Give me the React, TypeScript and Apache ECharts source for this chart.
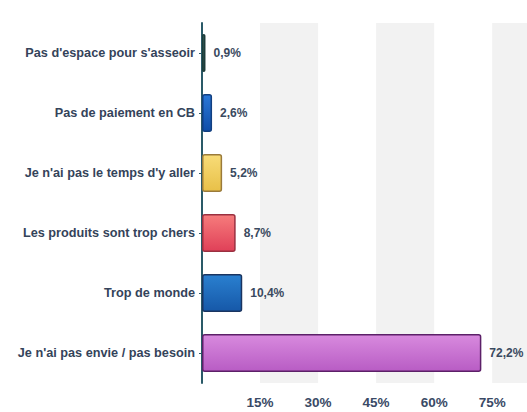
import React, { useEffect, useRef } from "react";
import * as echarts from "echarts";

const categories = [
  "Pas d'espace pour s'asseoir",
  "Pas de paiement en CB",
  "Je n'ai pas le temps d'y aller",
  "Les produits sont trop chers",
  "Trop de monde",
  "Je n'ai pas envie / pas besoin",
];
const values = [0.9, 2.6, 5.2, 8.7, 10.4, 72.2];
const valueLabels = ["0,9%", "2,6%", "5,2%", "8,7%", "10,4%", "72,2%"];
const topColors = ["#3d6e68", "#2a78d8", "#f8dc78", "#f67c7c", "#2a80d0", "#d88ade"];
const bottomColors = ["#244c48", "#0f4ea8", "#e8c048", "#e04058", "#1658a8", "#b85cc4"];
const borderColors = ["#1e3c3a", "#123f80", "#9a7a3a", "#9a3040", "#1a3460", "#5c2068"];
const xMin = 0;
const xMax = 84;
const xStep = 15;

export default function App() {
  const ref = useRef<HTMLDivElement>(null);
  useEffect(() => {
    if (!ref.current) return;
    const chart = echarts.init(ref.current, null, { renderer: "svg" });
    chart.setOption({
      animation: false,
      backgroundColor: "#ffffff",
      grid: { left: 202, top: 23, right: 0, bottom: 29, containLabel: false },
      xAxis: {
        type: "value",
        min: xMin,
        max: xMax,
        interval: xStep,
        axisLine: { show: false },
        axisTick: { show: false },
        splitLine: { show: false },
        splitArea: {
          show: true,
          areaStyle: { color: ["rgba(255,255,255,0)", "#f2f2f2"] },
        },
        axisLabel: {
          margin: 12,
          fontFamily: "Liberation Sans, Arial, sans-serif",
          fontWeight: "bold",
          fontSize: 13.5,
          color: "#3a4a66",
          showMaxLabel: false,
          formatter: (v: number) => (v === 0 || v % xStep !== 0 ? "" : v + "%"),
        },
      },
      yAxis: {
        type: "category",
        inverse: true,
        data: categories,
        axisLine: { show: true, lineStyle: { color: "#2a5a68", width: 2 } },
        axisTick: { show: true, alignWithLabel: true, length: 3, lineStyle: { color: "#2a5a68" } },
        axisLabel: {
          margin: 7,
          fontFamily: "Liberation Sans, Arial, sans-serif",
          fontWeight: "bold",
          fontSize: 12.7,
          color: "#34435a",
        },
      },
      series: [
        {
          type: "bar",
          barWidth: 38,
          z: 1,
          data: values.map((v, i) => ({
            value: v,
            itemStyle: {
              color: new echarts.graphic.LinearGradient(0, 0, 0, 1, [
                { offset: 0, color: topColors[i] },
                { offset: 1, color: bottomColors[i] },
              ]),
              borderColor: borderColors[i],
              borderWidth: 1.5,
              borderRadius: 2,
            },
            label: {
              show: true,
              position: "right",
              distance: 8,
              formatter: valueLabels[i],
              fontFamily: "Liberation Sans, Arial, sans-serif",
              fontWeight: "bold",
              fontSize: 12,
              color: "#3a4a60",
            },
          })),
        },
      ],
    });
    return () => chart.dispose();
  }, []);
  return (
    <div
      ref={ref}
      style={{ position: "fixed", left: 0, top: 0, width: 527, height: 412, overflow: "hidden" }}
    />
  );
}
